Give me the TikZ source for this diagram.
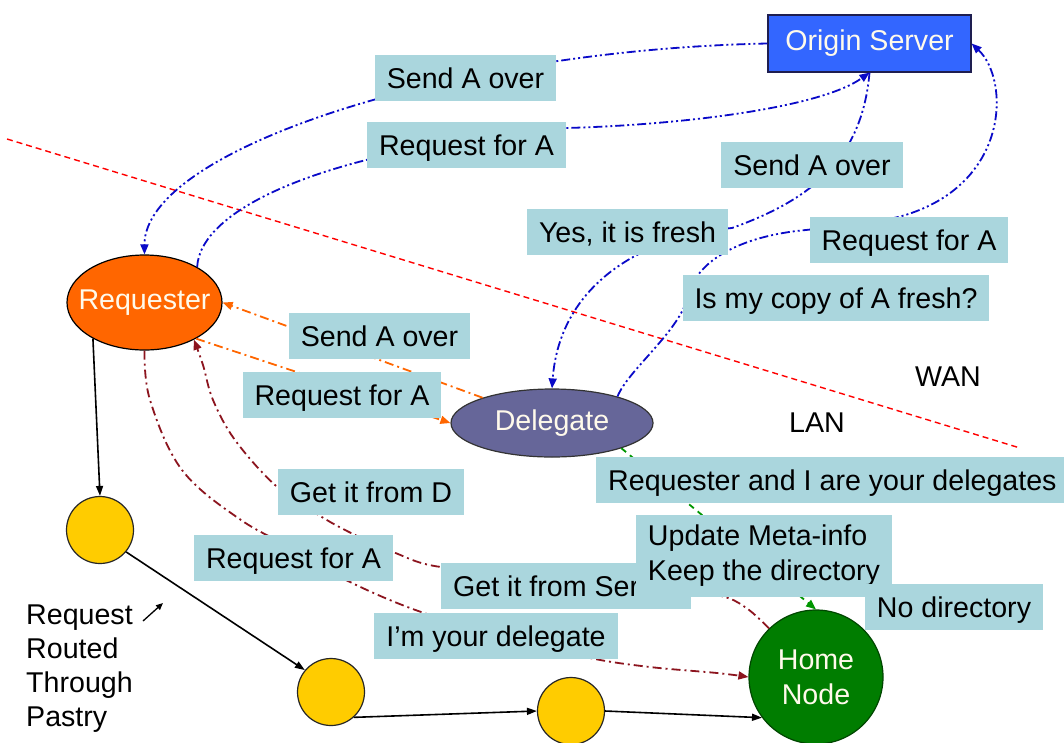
\documentclass[tikz,border=0pt]{standalone}
\usepackage{fontspec}
\setmainfont{Liberation Sans}
\usetikzlibrary{arrows.meta,shapes.geometric}

\definecolor{lbl}{RGB}{170,214,221}
\definecolor{srvblue}{RGB}{51,102,255}
\definecolor{flowblue}{RGB}{10,10,200}
\definecolor{reqorange}{RGB}{255,102,0}
\definecolor{dlgslate}{RGB}{102,102,153}
\definecolor{homegreen}{RGB}{0,125,0}
\definecolor{pastryyellow}{RGB}{255,204,0}
\definecolor{darkmaroon}{RGB}{140,20,30}
\definecolor{updgreen}{RGB}{0,150,0}
\definecolor{lighttext}{RGB}{255,250,235}

\begin{document}
\begin{tikzpicture}[x=1pt,y=-1pt,
  every node/.style={font=\fontsize{28.6pt}{35pt}\selectfont},
  msg/.style={fill=lbl, text=black, inner xsep=12pt, inner ysep=0pt,
    minimum height=46pt, text height=24pt, text depth=3pt},
  msgblock/.style={fill=lbl, text=black, align=left, inner xsep=11pt,
    inner ysep=0pt, minimum width=256pt, minimum height=82pt},
  hop/.style={circle, draw=black!85, line width=1.2pt, fill=pastryyellow,
    minimum size=67pt, inner sep=0pt},
  blueflow/.style={draw=flowblue, line width=1.8pt,
    dash pattern=on 9pt off 3pt on 2pt off 3pt on 2pt off 3pt,
    -{Triangle[length=10pt,width=8pt]}},
  orflow/.style={draw=reqorange, line width=1.8pt,
    dash pattern=on 9pt off 4pt on 2pt off 4pt,
    -{Triangle[length=10pt,width=8pt]}},
  rdflow/.style={draw=darkmaroon, line width=1.8pt,
    dash pattern=on 9pt off 4pt on 2pt off 4pt,
    -{Triangle[length=10pt,width=8pt]}},
  grflow/.style={draw=updgreen, line width=1.8pt,
    dash pattern=on 6pt off 5pt,
    -{Triangle[length=10pt,width=8pt]}},
  pastry/.style={draw=black, line width=1.6pt,
    -{Triangle[length=10pt,width=7pt]}},
  wanline/.style={draw=red, line width=1.4pt, dash pattern=on 6pt off 4pt}
]
\useasboundingbox (0,0) rectangle (1064,742);
\fill[white] (0,0) rectangle (1064,742);

% WAN / LAN boundary
\coordinate (wanL) at (7,139);
\coordinate (wanR) at (1020,448);
\draw[wanline] (wanL) -- (wanR);

% main nodes
\node[ellipse, draw=black, line width=1.2pt, fill=reqorange, text=lighttext,
  minimum width=155pt, minimum height=95pt, inner xsep=-12pt, inner ysep=0pt] (rq) at (144.5,302.5) {Requester};
\node[ellipse, draw=black!80, line width=1.2pt, fill=dlgslate, text=lighttext,
  minimum width=202pt, minimum height=68pt, inner sep=0pt] (dl) at (552,423) {Delegate};
\node[rectangle, draw={rgb,255:red,30;green,30;blue,80}, line width=1.2pt, fill=srvblue,
  text=lighttext, minimum width=203pt, minimum height=57pt, inner sep=0pt] (os) at (869.5,43.5) {Origin Server};
\node[circle, draw={rgb,255:red,0;green,70;blue,0}, line width=1.2pt, fill=homegreen,
  text=lighttext, minimum size=134pt, inner sep=0pt, align=center] (hn) at (816,677) {Home\\Node};
\node[hop] (c1) at (100,530) {};
\node[hop] (c2) at (331,692) {};
\node[hop] (c3) at (571,711) {};

% route through Pastry
\draw[pastry] (rq.-145) -- (c1.north);
\draw[pastry] (c1.-40) -- (c2.140);
\draw[pastry] (c2.-48) -- (c3.west);
\draw[pastry] (c3.east) -- (hn.217);

% WAN traffic
\draw[blueflow] (os.west) .. controls (450,50) and (144,150) .. (rq.north);
\draw[blueflow] (rq.34) .. controls (200,210) and (320,150) .. (566,128)
  .. controls (680,125) and (820,108) .. (os.south);
\draw[blueflow] (os.south) .. controls (862,160) and (810,200) .. (732,228)
  .. controls (650,235) and (560,280) .. (dl.north);
\draw[blueflow] (dl.22) .. controls (628,370) and (680,331) .. (688,296)
  .. controls (696,261) and (740,236) .. (806,230)
  .. controls (850,225) and (880,222) .. (902,216)
  .. controls (1010,185) and (1010,80) .. (os.east);

% LAN traffic
\draw[orflow] (dl.160) -- (rq.east);
\draw[orflow] (rq.-35) -- (dl.west);
\draw[rdflow] plot[smooth, tension=0.6] coordinates {(hn.134) (745,607) (717,595)
  (640,582) (540,572) (441,567) (393,552) (351,533) (317,514) (275,485)
  (235,440) (213,400) (203,365) (rq.-37)};
\draw[rdflow] plot[smooth, tension=0.6] coordinates {(rq.south) (150,400)
  (182,470) (241,520) (300,552) (348,581) (424,613) (520,640) (590,658)
  (650,667) (717,673) (hn.west)};
\draw[grflow] (dl.-20) -- (hn.north);

% message labels
\node[msg] (l1) at (465.5,78) {Send A over};
\node[msg] (l2) at (466.5,144.5) {Request for A};
\node[msg] (l3) at (812,164.5) {Send A over};
\node[msg] (l4) at (627.5,231.5) {Yes, it is fresh};
\node[msg] (l5) at (909,239.5) {Request for A};
\node[msg] (l6) at (836,297.5) {Is my copy of A fresh?};
\node[msg] (l7) at (379.5,336) {Send A over};
\node[msg] (l8) at (342,395) {Request for A};
\node[msg] (l9) at (371,491.5) {Get it from D};
\node[msg, anchor=west] (l10) at (596,480) {Requester and I are your delegates};
\node[msg] (l11) at (293.5,557.5) {Request for A};
\node[msg, anchor=west] (l12) at (441,586) {Get it from Server};
\node[msgblock] (l13) at (764,556) {Update Meta-info\\Keep the directory};
\node[msg] (l14) at (954,607) {No directory};
\node[msg] (l15) at (496,635.5) {I’m your delegate};

% region names
\node (wan) at (948,377) {WAN};
\node (lan) at (817,423) {LAN};

% legend for the black route
\node[align=left, anchor=north west, inner sep=0pt,
  font=\fontsize{28.6pt}{34pt}\selectfont] (route) at (26,605) {Request\\Routed\\Through\\Pastry};
\coordinate (pa1) at (143,621);
\coordinate (pa2) at (163,603);
\draw[draw=black, line width=1.3pt, -{Triangle[length=7pt,width=6pt]}] (pa1) -- (pa2);
\end{tikzpicture}
\end{document}
